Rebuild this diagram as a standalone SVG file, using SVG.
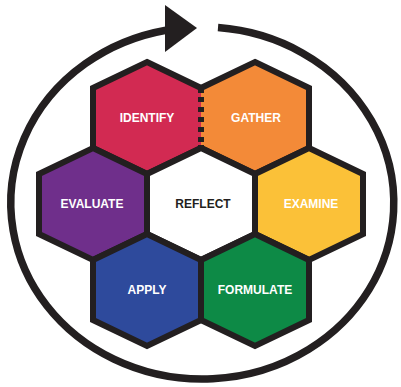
<svg xmlns="http://www.w3.org/2000/svg" width="401" height="387" viewBox="0 0 401 387">
  <style>
    .hex { stroke: #231f20; stroke-width: 6; stroke-linejoin: miter; }
    .lbl { font-family: "Liberation Sans", Arial, sans-serif; font-weight: bold; font-size: 12px; text-anchor: middle; fill: #ffffff; }
    .dark { fill: #231f20; }
    .ring { fill: none; stroke: #231f20; stroke-width: 7.5; }
  </style>
  <rect width="401" height="387" fill="#ffffff"/>
  <g id="connectors">
    <path class="ring" d="M 218 27.6 A 191.5 176 0 1 1 166 30.2"/>
    <polygon points="165,5 197,28 165,52" fill="#231f20"/>
  </g>
  <g id="identify">
    <polygon class="hex" fill="#d22a52" points="147,62 201,88 201,148 147,174 93,148 93,88"/>
    <text class="lbl" x="147" y="122">IDENTIFY</text>
  </g>
  <g id="gather">
    <polygon class="hex" fill="#f38a38" points="255,62 309,88 309,148 255,174 201,148 201,88"/>
    <text class="lbl" x="256" y="122">GATHER</text>
  </g>
  <g id="evaluate">
    <polygon class="hex" fill="#6f2f8b" points="93,148 147,174 147,234 93,260 39,234 39,174"/>
    <text class="lbl" x="92" y="208">EVALUATE</text>
  </g>
  <g id="reflect">
    <polygon class="hex" fill="#ffffff" points="201,148 255,174 255,234 201,260 147,234 147,174"/>
    <text class="lbl dark" x="203" y="208">REFLECT</text>
  </g>
  <g id="examine">
    <polygon class="hex" fill="#fbc138" points="309,148 363,174 363,234 309,260 255,234 255,174"/>
    <text class="lbl" x="311" y="208">EXAMINE</text>
  </g>
  <g id="apply">
    <polygon class="hex" fill="#2e4a9c" points="147,234 201,260 201,320 147,346 93,320 93,260"/>
    <text class="lbl" x="147" y="294">APPLY</text>
  </g>
  <g id="formulate">
    <polygon class="hex" fill="#0d8a46" points="255,234 309,260 309,320 255,346 201,320 201,260"/>
    <text class="lbl" x="255" y="294">FORMULATE</text>
  </g>
  <g id="shared-edge">
    <rect x="197" y="93" width="4" height="52" fill="#d22a52"/>
    <rect x="201" y="93" width="4" height="52" fill="#f38a38"/>
    <line x1="201" y1="97" x2="201" y2="142" stroke="#231f20" stroke-width="6" stroke-dasharray="5 5"/>
  </g>
</svg>
